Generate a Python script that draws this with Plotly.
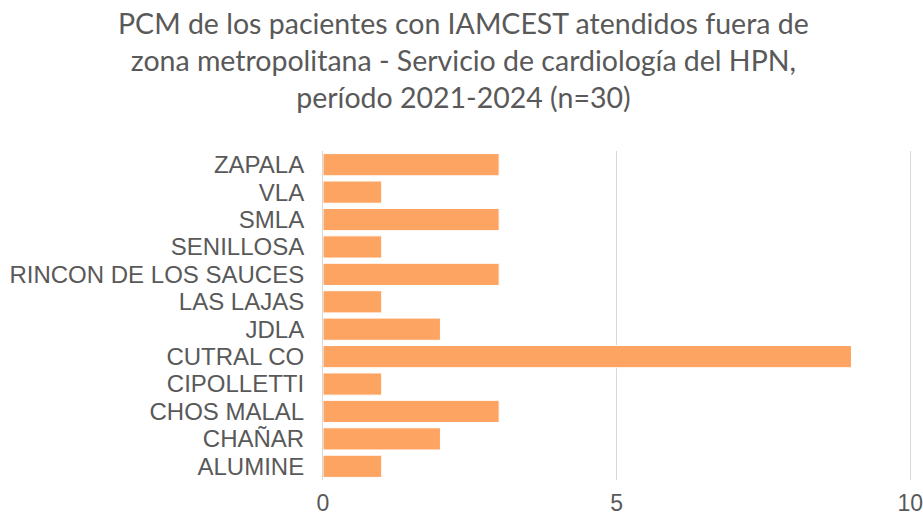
import plotly.graph_objects as go

# Localidades (bottom to top as drawn) and patient counts
localidades = ["ALUMINE", "CHAÑAR", "CHOS MALAL", "CIPOLLETTI", "CUTRAL CO", "JDLA",
               "LAS LAJAS", "RINCON DE LOS SAUCES", "SENILLOSA", "SMLA", "VLA", "ZAPALA"]
pacientes = [1, 2, 3, 1, 9, 2, 1, 3, 1, 3, 1, 3]
x_ticks = [0, 5, 10]

titulo = ("PCM de los pacientes con IAMCEST atendidos fuera de<br>"
          "zona metropolitana - Servicio de cardiología del HPN,<br>"
          "período 2021-2024 (n=30)")

fig = go.Figure(go.Bar(
    x=pacientes, y=localidades, orientation="h",
    marker=dict(color="#FDA462", line=dict(color="#FFFFFF", width=1)),
))

# plot area: ~589 x 329 px; title placed in paper coords above it
fig.update_layout(
    width=923, height=517,
    margin=dict(l=323, r=11, t=151, b=37),
    paper_bgcolor="white", plot_bgcolor="white",
    bargap=0.19,
    showlegend=False,
    font=dict(family="Liberation Sans, Arial, sans-serif", color="#595959"),
    annotations=[dict(text=titulo, x=0.2377, xref="paper", xanchor="center",
                      y=1.447, yref="paper", yanchor="top",
                      showarrow=False, align="center",
                      font=dict(family="Lato", size=28.5, color="#595959"))],
)
# range runs a hair past 10 so the gridline at 10 is still drawn
fig.update_xaxes(range=[0, 10.03], tickmode="array", tickvals=x_ticks, showgrid=True,
                 gridcolor="#D9D9D9", gridwidth=1, zeroline=False, showline=False,
                 ticks="", automargin=False, ticklabelstandoff=7,
                 ticklabeloverflow="allow",
                 tickfont=dict(size=23, family="Liberation Sans", color="#595959"))
fig.update_yaxes(showline=True, linecolor="#D9D9D9", linewidth=1, ticks="",
                 tickmode="array", tickvals=localidades,
                 showgrid=False, automargin=False, ticklabelstandoff=13,
                 tickfont=dict(size=24, family="Liberation Sans", color="#595959"))

# drop the browser's default body margin so the figure sits at the page corner
fig.write_html("out.html", config={"displayModeBar": False},
               post_script="document.body.style.margin='0';")
